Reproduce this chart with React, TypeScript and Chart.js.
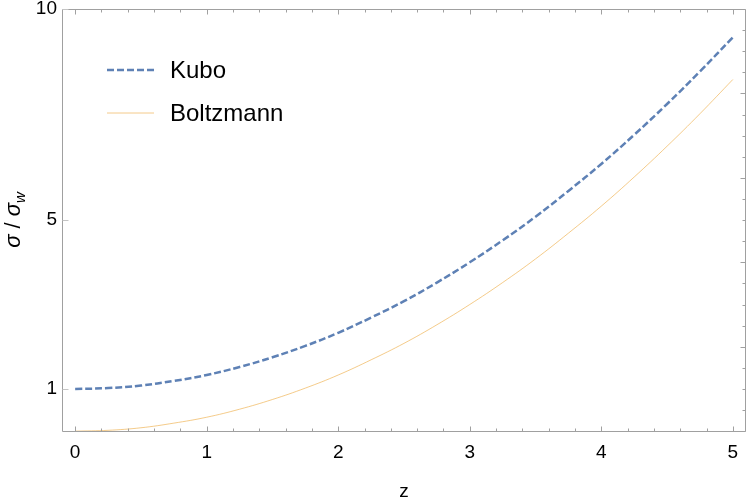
import React, { useEffect, useRef } from "react";
import { Chart, registerables } from "chart.js";

Chart.register(...registerables);

// ---- data ----
const zValues = [0, 0.25, 0.5, 0.75, 1, 1.25, 1.5, 1.75, 2, 2.25, 2.5, 2.75, 3, 3.25, 3.5, 3.75, 4, 4.25, 4.5, 4.75, 5];
const kuboValues = [1.0, 1.02, 1.08, 1.19, 1.33, 1.52, 1.75, 2.02, 2.33, 2.69, 3.08, 3.52, 4.0, 4.52, 5.08, 5.69, 6.33, 7.02, 7.75, 8.52, 9.33];
const boltzmannValues = [0.0, 0.02, 0.08, 0.19, 0.33, 0.52, 0.75, 1.02, 1.33, 1.69, 2.08, 2.52, 3.0, 3.52, 4.08, 4.69, 5.33, 6.02, 6.75, 7.52, 8.33];
const seriesNames = ["Kubo", "Boltzmann"];
const xTickLabels = [0, 1, 2, 3, 4, 5];
const yTickLabels = [1, 5, 10];
const xTitle = "z";

const FONT = "'Liberation Sans', Arial, sans-serif";
const FRAME = "#a0a0a0";
const KUBO_COLOR = "#5e81b5";
const BOLTZ_COLOR = "rgba(236,168,60,0.6)";

const framePlugin = {
  id: "mmaFrame",
  afterDatasetsDraw(chart: any) {
    const { ctx, chartArea: a, scales } = chart;
    const x = scales.x;
    const y = scales.y;
    ctx.save();
    ctx.lineWidth = 1;
    ctx.strokeStyle = FRAME;
    const line = (x1: number, y1: number, x2: number, y2: number) => {
      ctx.beginPath();
      ctx.moveTo(x1, y1);
      ctx.lineTo(x2, y2);
      ctx.stroke();
    };
    const L = Math.round(a.left) + 0.5;
    const R = Math.round(a.right) - 0.5;
    const T = Math.round(a.top) + 0.5;
    const B = Math.round(a.bottom) - 0.5;
    line(L, T, R, T);
    line(R, T, R, B);
    line(R, B, L, B);
    line(L, B, L, T);
    // bottom & top ticks: major at integers, minor every 0.2
    for (let i = 0; i <= 25; i++) {
      const v = i * 0.2;
      const px = Math.round(x.getPixelForValue(v)) + 0.5;
      const len = i % 5 === 0 ? 5 : 3;
      line(px, B, px, B - len);
      line(px, T, px, T + len);
    }
    // right ticks: major at even values, minor every 0.5
    for (let i = 0; i <= 20; i++) {
      const v = i * 0.5;
      const py = Math.round(y.getPixelForValue(v)) + 0.5;
      if (py < a.top || py > a.bottom) continue;
      const len = i % 4 === 0 ? 5 : 3;
      line(R, py, R - len, py);
    }
    // left ticks at labelled values
    ctx.strokeStyle = "#c4c4c4";
    for (const v of yTickLabels) {
      const py = Math.round(y.getPixelForValue(v)) + 0.5;
      line(L, py, L + 6, py);
    }
    ctx.restore();
  },
  afterDraw(chart: any) {
    const { ctx, chartArea: a } = chart;
    ctx.save();
    // legend
    const ds = chart.data.datasets;
    const rows = [
      { y: 70, base: 78 },
      { y: 113, base: 121 },
    ];
    ds.forEach((d: any, i: number) => {
      ctx.beginPath();
      ctx.strokeStyle = d.borderColor;
      ctx.lineWidth = d.borderWidth;
      ctx.setLineDash(d.borderDash || []);
      ctx.moveTo(107, rows[i].y);
      ctx.lineTo(154, rows[i].y);
      ctx.stroke();
      ctx.setLineDash([]);
      ctx.fillStyle = "#000";
      ctx.font = `24px ${FONT}`;
      ctx.textAlign = "left";
      ctx.textBaseline = "alphabetic";
      ctx.fillText(d.label, 170, rows[i].base);
    });
    // x title
    ctx.fillStyle = "#000";
    ctx.font = `19px ${FONT}`;
    ctx.textAlign = "center";
    ctx.textBaseline = "alphabetic";
    ctx.fillText(xTitle, (a.left + a.right) / 2, 497);
    // y title: σ / σ_w
    const parts = [
      { t: "σ", f: `italic 22px ${FONT}`, dy: 0 },
      { t: " / ", f: `22px ${FONT}`, dy: 0 },
      { t: "σ", f: `italic 22px ${FONT}`, dy: 0 },
      { t: "w", f: `italic 15px ${FONT}`, dy: 5 },
    ];
    let total = 0;
    const widths = parts.map((p) => {
      ctx.font = p.f;
      const w = ctx.measureText(p.t).width;
      total += w;
      return w;
    });
    ctx.translate(20, 220);
    ctx.rotate(-Math.PI / 2);
    ctx.textAlign = "left";
    ctx.textBaseline = "alphabetic";
    let cx = -total / 2;
    parts.forEach((p, i) => {
      ctx.font = p.f;
      ctx.fillText(p.t, cx, p.dy);
      cx += widths[i];
    });
    ctx.restore();
  },
};

export default function App() {
  const ref = useRef<HTMLCanvasElement | null>(null);
  useEffect(() => {
    document.body.style.margin = "0";
    const canvas = ref.current!;
    const chart = new Chart(canvas, {
      type: "line",
      data: {
        datasets: [
          {
            label: seriesNames[0],
            data: zValues.map((z, i) => ({ x: z, y: kuboValues[i] })),
            borderColor: KUBO_COLOR,
            borderWidth: 2.5,
            borderDash: [7, 3],
            pointRadius: 0,
            tension: 0.4,
            fill: false,
          },
          {
            label: seriesNames[1],
            data: zValues.map((z, i) => ({ x: z, y: boltzmannValues[i] })),
            borderColor: BOLTZ_COLOR,
            borderWidth: 1,
            pointRadius: 0,
            tension: 0.4,
            fill: false,
          },
        ],
      },
      options: {
        responsive: false,
        animation: false,
        devicePixelRatio: 1,
        layout: { padding: { top: 9, right: 1, left: 0, bottom: 0 } },
        plugins: { legend: { display: false }, tooltip: { enabled: false } },
        scales: {
          x: {
            type: "linear",
            min: -0.1,
            max: 5.1,
            afterBuildTicks: (s: any) => {
              s.ticks = xTickLabels.map((v) => ({ value: v }));
            },
            afterFit: (s: any) => {
              s.height = 66;
              s.paddingLeft = 0;
              s.paddingRight = 0;
            },
            grid: { display: false, drawTicks: false },
            border: { display: false },
            ticks: {
              color: "#000",
              font: { family: FONT, size: 19 },
              padding: 9,
              maxRotation: 0,
              autoSkip: false,
              callback: (v: any) => String(v),
            },
          },
          y: {
            type: "linear",
            min: -0.02,
            max: 10,
            afterBuildTicks: (s: any) => {
              s.ticks = yTickLabels.map((v) => ({ value: v }));
            },
            afterFit: (s: any) => {
              s.width = 62;
              s.paddingTop = 0;
              s.paddingBottom = 0;
            },
            grid: { display: false, drawTicks: false },
            border: { display: false },
            ticks: {
              color: "#000",
              font: { family: FONT, size: 19 },
              padding: 5,
              autoSkip: false,
              callback: (v: any) => String(v),
            },
          },
        },
      },
      plugins: [framePlugin],
    } as any);
    return () => chart.destroy();
  }, []);
  return <canvas ref={ref} width={747} height={498} style={{ display: "block" }} />;
}
